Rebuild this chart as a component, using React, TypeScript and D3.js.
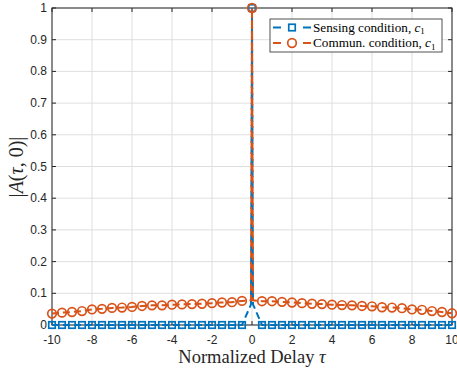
import React from "react";
import * as d3 from "d3";

// marker positions (tau) and values
const tauMarkers = [
  -10, -9.5, -9, -8.5, -8, -7.5, -7, -6.5, -6, -5.5, -5, -4.5, -4, -3.5, -3, -2.5, -2, -1.5, -1, -0.5,
  0,
  0.5, 1, 1.5, 2, 2.5, 3, 3.5, 4, 4.5, 5, 5.5, 6, 6.5, 7, 7.5, 8, 8.5, 9, 9.5, 10,
];
const sensingValues = [
  0, 0, 0, 0, 0, 0, 0, 0, 0, 0, 0, 0, 0, 0, 0, 0, 0, 0, 0, 0,
  1,
  0, 0, 0, 0, 0, 0, 0, 0, 0, 0, 0, 0, 0, 0, 0, 0, 0, 0, 0, 0,
];
const communValues = [
  0.036, 0.039, 0.041, 0.044, 0.049, 0.051, 0.054, 0.055, 0.057, 0.06, 0.062, 0.062, 0.064, 0.065, 0.066, 0.067, 0.069, 0.071, 0.072, 0.076,
  1,
  0.075, 0.075, 0.073, 0.071, 0.069, 0.067, 0.066, 0.064, 0.063, 0.062, 0.06, 0.059, 0.056, 0.055, 0.053, 0.049, 0.048, 0.044, 0.041, 0.037,
];
// extra fine samples next to the peak (line only, no markers)
const nearPeakTau = [-0.05, 0.05];
const nearPeakSensing = [0.065, 0.065];
const nearPeakCommun = [0.078, 0.078];

const xTicks = [-10, -8, -6, -4, -2, 0, 2, 4, 6, 8, 10];
const yTicks = [0, 0.1, 0.2, 0.3, 0.4, 0.5, 0.6, 0.7, 0.8, 0.9, 1];
const yTickLabels = ["0", "0.1", "0.2", "0.3", "0.4", "0.5", "0.6", "0.7", "0.8", "0.9", "1"];

const BLUE = "#0072BD";
const ORANGE = "#D95319";
const AX = "#262626";

function buildSeries(vals: number[], near: number[]) {
  const pts: [number, number][] = tauMarkers.map((t, i) => [t, vals[i]]);
  nearPeakTau.forEach((t, i) => pts.push([t, near[i]]));
  pts.sort((a, b) => a[0] - b[0]);
  return pts;
}

export default function App() {
  const W = 457, H = 371;
  const left = 52, right = 452, top = 8, bottom = 325;
  const x = d3.scaleLinear().domain([-10, 10]).range([left, right]);
  const y = d3.scaleLinear().domain([0, 1]).range([bottom, top]);
  const line = d3.line<[number, number]>().x((d) => x(d[0])).y((d) => y(d[1]));

  const sensPts = buildSeries(sensingValues, nearPeakSensing);
  const commPts = buildSeries(communValues, nearPeakCommun);
  const tickLen = 4;
  const sq = 6.5;
  const cr = 4.3;

  const sqMarker = (cx: number, cy: number, k: string) => (
    <rect key={k} x={cx - sq / 2} y={cy - sq / 2} width={sq} height={sq} fill="none" stroke={BLUE} strokeWidth={1.7} />
  );
  const circMarker = (cx: number, cy: number, k: string) => (
    <circle key={k} cx={cx} cy={cy} r={cr} fill="none" stroke={ORANGE} strokeWidth={1.7} />
  );

  const legX = 270, legY = 19, legW = 172, legH = 33;
  const tickFont = "Liberation Sans, Arial, Helvetica, sans-serif";
  const serif = "Liberation Serif, Times New Roman, serif";

  return (
    <svg width={W} height={H} style={{ position: "absolute", left: 0, top: 0, background: "#fff" }}>
      <rect x={0} y={0} width={W} height={H} fill="#fff" />
      {/* grid */}
      {xTicks.map((t) => (
        <line key={"gx" + t} x1={x(t)} x2={x(t)} y1={top} y2={bottom} stroke="#dfdfdf" strokeWidth={1} />
      ))}
      {yTicks.map((t) => (
        <line key={"gy" + t} x1={left} x2={right} y1={y(t)} y2={y(t)} stroke="#dfdfdf" strokeWidth={1} />
      ))}
      {/* ticks */}
      {xTicks.map((t) => (
        <g key={"tx" + t}>
          <line x1={x(t)} x2={x(t)} y1={bottom} y2={bottom - tickLen} stroke={AX} />
          <line x1={x(t)} x2={x(t)} y1={top} y2={top + tickLen} stroke={AX} />
          <text x={x(t)} y={344} textAnchor="middle" fontFamily={tickFont} fontSize={12} fill={AX}>
            {t}
          </text>
        </g>
      ))}
      {yTicks.map((t, i) => (
        <g key={"ty" + t}>
          <line x1={left} x2={left + tickLen} y1={y(t)} y2={y(t)} stroke={AX} />
          <line x1={right} x2={right - tickLen} y1={y(t)} y2={y(t)} stroke={AX} />
          <text x={47} y={y(t) + 4} textAnchor="end" fontFamily={tickFont} fontSize={12} fill={AX}>
            {yTickLabels[i]}
          </text>
        </g>
      ))}
      {/* box */}
      <rect x={left} y={top} width={right - left} height={bottom - top} fill="none" stroke={AX} strokeWidth={1} />

      {/* series */}
      <path d={line(sensPts) || ""} fill="none" stroke={BLUE} strokeWidth={2} strokeDasharray="7,4" />
      {tauMarkers.map((t, i) => sqMarker(x(t), y(sensingValues[i]), "s" + i))}
      <path d={line(commPts) || ""} fill="none" stroke={ORANGE} strokeWidth={2} strokeDasharray="7,4" />
      {tauMarkers.map((t, i) => circMarker(x(t), y(communValues[i]), "c" + i))}

      {/* legend */}
      <rect x={legX} y={legY} width={legW} height={legH} fill="#fff" stroke={AX} strokeWidth={0.8} />
      <line x1={273} x2={281} y1={27.5} y2={27.5} stroke={BLUE} strokeWidth={2} />
      <line x1={303} x2={311} y1={27.5} y2={27.5} stroke={BLUE} strokeWidth={2} />
      {sqMarker(292, 27.5, "ls")}
      <line x1={273} x2={281} y1={43} y2={43} stroke={ORANGE} strokeWidth={2} />
      <line x1={303} x2={311} y1={43} y2={43} stroke={ORANGE} strokeWidth={2} />
      {circMarker(292, 43, "lc")}
      <text x={313} y={31.5} fontFamily={serif} fontSize={13.2} fill="#000">
        Sensing condition, <tspan fontStyle="italic">c</tspan>
        <tspan fontSize={9} dy={2.5}>1</tspan>
      </text>
      <text x={313} y={47} fontFamily={serif} fontSize={13.2} fill="#000">
        Commun. condition, <tspan fontStyle="italic">c</tspan>
        <tspan fontSize={9} dy={2.5}>1</tspan>
      </text>

      {/* axis labels */}
      <text x={252} y={363} textAnchor="middle" fontFamily={serif} fontSize={18.5} fill={AX}>
        Normalized Delay <tspan fontStyle="italic">τ</tspan>
      </text>
      <text
        transform={`translate(23,167) rotate(-90)`}
        textAnchor="middle"
        fontFamily={serif}
        fontSize={20}
        fill={AX}
      >
        |<tspan fontStyle="italic">A</tspan>(<tspan fontStyle="italic">τ</tspan>, 0)|
      </text>
    </svg>
  );
}
